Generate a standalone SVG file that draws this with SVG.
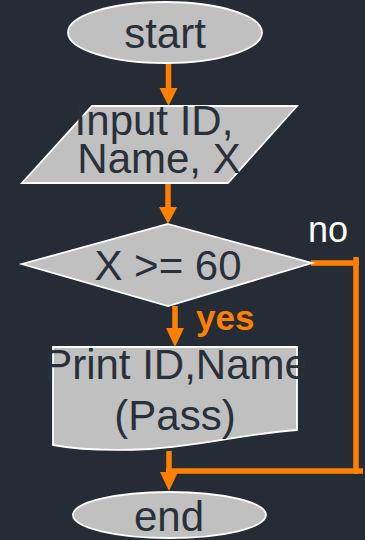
<svg xmlns="http://www.w3.org/2000/svg" width="365" height="540" viewBox="0 0 365 540">
  <style>
    .node { fill: #c0c0c0; stroke: #ffffff; stroke-width: 1.8; }
    .label { font-family: "Liberation Sans", Arial, sans-serif; font-size: 42px; fill: #29303a; text-anchor: middle; }
    .wire { fill: none; stroke: #ff8000; stroke-width: 5.5; }
    .head { fill: #ff8000; }
  </style>
  <rect width="365" height="540" fill="#252c35"/>

  <g id="connectors">
    <!-- start -> input -->
    <line class="wire" x1="168.5" y1="63" x2="168.5" y2="89"/>
    <polygon class="head" points="159.5,88 177.5,88 168.5,106"/>
    <!-- input -> decision -->
    <line class="wire" x1="168" y1="183" x2="168" y2="208"/>
    <polygon class="head" points="159,207 177,207 168,224"/>
    <!-- decision yes -> print -->
    <line class="wire" x1="175" y1="306" x2="175" y2="329"/>
    <polygon class="head" points="166,328 184,328 175,347"/>
    <!-- print -> end -->
    <line class="wire" x1="169" y1="451" x2="169" y2="473"/>
    <polygon class="head" points="160,472 178,472 169,491"/>
    <!-- decision no -> end -->
    <path class="wire" d="M311,263 H359 M356,257 V474 M363,471 H166"/>
    <text x="308" y="242" font-family="Liberation Sans, Arial, sans-serif" font-size="36" fill="#ffffff">no</text>
    <text x="196" y="330" font-family="Liberation Sans, Arial, sans-serif" font-size="35" font-weight="bold" fill="#ff8000">yes</text>
  </g>

  <g id="start">
    <ellipse class="node" cx="165" cy="32.5" rx="97" ry="30.5"/>
    <text class="label" x="165" y="48">start</text>
  </g>

  <g id="input">
    <polygon class="node" points="92,106 297,106 228,183 22,183"/>
    <text class="label" x="154" y="135">Input ID,</text>
    <text class="label" x="159" y="173">Name, X</text>
  </g>

  <g id="decision">
    <polygon class="node" points="168,224 312,263 168,306 22,264"/>
    <text class="label" x="168" y="280">X &gt;= 60</text>
  </g>

  <g id="print">
    <path class="node" d="M53,347 H297 V430 C250,433 200,446 150,449 C110,451 80,450 53,445 Z"/>
    <text class="label" x="176" y="379">Print ID,Name</text>
    <text class="label" x="175" y="430">(Pass)</text>
  </g>

  <g id="end">
    <ellipse class="node" cx="169.5" cy="515" rx="96.5" ry="23"/>
    <text class="label" x="169" y="531">end</text>
  </g>
</svg>
